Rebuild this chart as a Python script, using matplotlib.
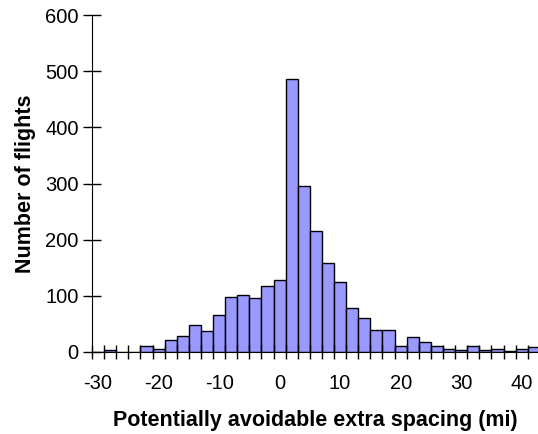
import matplotlib
matplotlib.use('Agg')
import matplotlib.pyplot as plt
import numpy as np

plt.rcParams['font.family'] = ['Liberation Sans', 'DejaVu Sans']
plt.rcParams['axes.unicode_minus'] = False

# bin centres (mi), bins are 2 mi wide
spacing = np.arange(-30, 44, 2)
flights = [0, 3, 0, 0, 11, 6, 21, 28, 48, 38, 65, 98, 101, 96, 117, 128,
           486, 295, 215, 159, 124, 79, 60, 40, 40, 11, 26, 18, 11, 6, 4,
           11, 4, 6, 1, 6, 9]

fig = plt.figure(figsize=(5.38, 4.34), dpi=100)
ax = fig.add_axes([0.171, 0.189, 0.829, 0.776])

ax.bar(spacing, flights, width=2, color='#9999ff', edgecolor='black', linewidth=1)

ax.set_xlim(-31, 42.7)
ax.set_ylim(0, 600)
ax.set_yticks(range(0, 601, 100))
ax.set_xticks(range(-30, 41, 10))
ax.set_xticks(np.arange(-31, 43, 2), minor=True)

ax.tick_params(axis='y', direction='inout', length=13, width=1, labelsize=14.5, pad=3)
ax.tick_params(axis='x', which='major', length=0, labelsize=14.5, pad=16)
ax.tick_params(axis='x', which='minor', direction='inout', length=10, width=1)

for s in ['top', 'right']:
    ax.spines[s].set_visible(False)

ax.set_xlabel('Potentially avoidable extra spacing (mi)', fontsize=15.5, fontweight='bold', labelpad=12)
ax.set_ylabel('Number of flights', fontsize=15.5, fontweight='bold', labelpad=7)

fig.savefig('out.png', dpi=100)
